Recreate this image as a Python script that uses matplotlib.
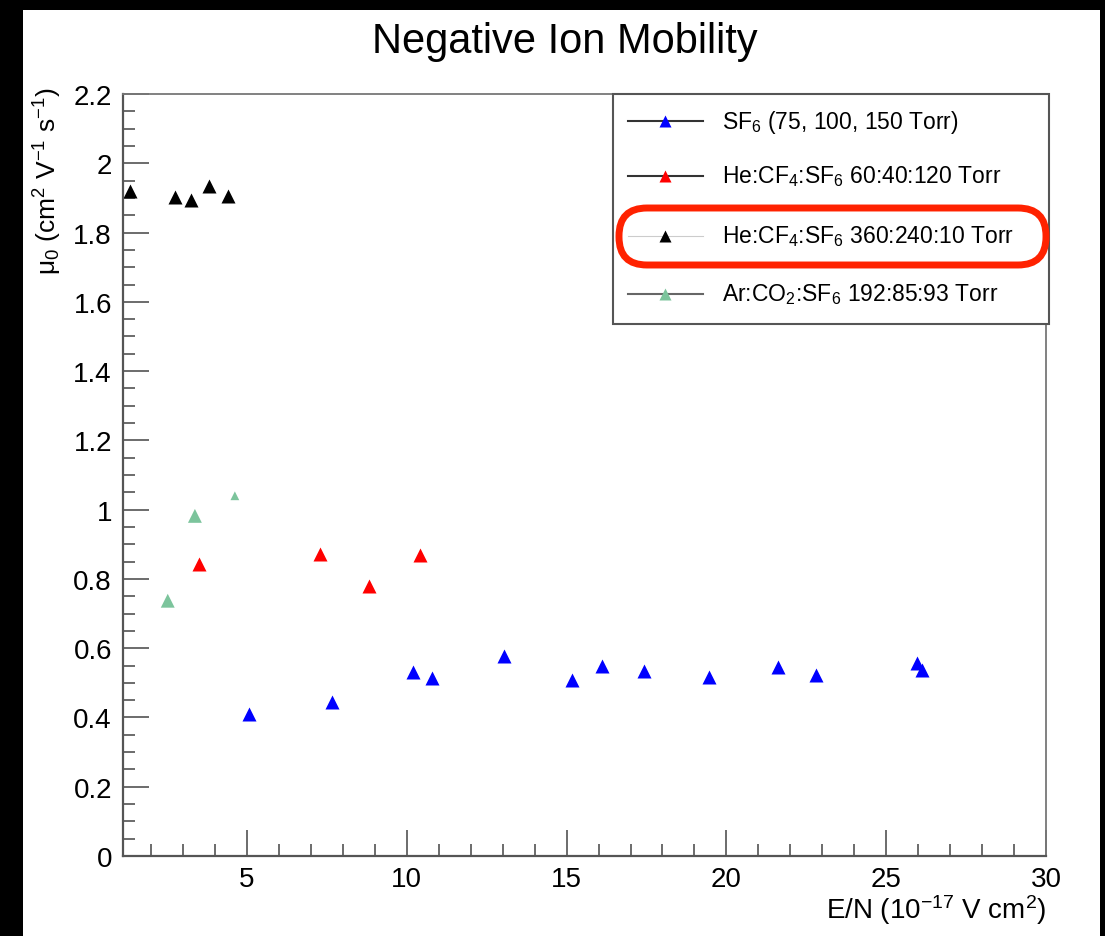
import matplotlib
matplotlib.use("Agg")
import matplotlib.pyplot as plt
from matplotlib.patches import Rectangle, FancyBboxPatch
from matplotlib.ticker import MultipleLocator

plt.rcParams["font.family"] = ["Liberation Sans", "DejaVu Sans"]
plt.rcParams["mathtext.fontset"] = "custom"
plt.rcParams["mathtext.rm"] = "Liberation Sans"
plt.rcParams["mathtext.it"] = "Liberation Sans"
plt.rcParams["mathtext.default"] = "regular"

# E/N (1e-17 V cm^2) and reduced mobility mu_0 (cm^2 V^-1 s^-1)
sf6_en = [5.07, 7.67, 10.18, 10.78, 13.05, 15.18, 16.10, 17.43, 19.46, 21.63, 22.81, 25.97, 26.12]
sf6_mu = [0.410, 0.444, 0.530, 0.513, 0.578, 0.509, 0.548, 0.535, 0.518, 0.546, 0.523, 0.556, 0.537]

he_cf4_sf6_a_en = [3.51, 7.28, 8.83, 10.41]
he_cf4_sf6_a_mu = [0.843, 0.872, 0.779, 0.869]

he_cf4_sf6_b_en = [1.34, 2.75, 3.25, 3.81, 4.41]
he_cf4_sf6_b_mu = [1.920, 1.902, 1.894, 1.935, 1.905]

ar_co2_sf6_en = [2.52, 3.37, 4.62]
ar_co2_sf6_mu = [0.737, 0.982, 1.040]

labels = [
    "SF$_6$ (75, 100, 150 Torr)",
    "He:CF$_4$:SF$_6$ 60:40:120 Torr",
    "He:CF$_4$:SF$_6$ 360:240:10 Torr",
    "Ar:CO$_2$:SF$_6$ 192:85:93 Torr",
]
colors = ["#0000ff", "#ff0000", "#000000", "#7cc49c"]

W, H = 1105, 937
fig = plt.figure(figsize=(W / 100, H / 100), dpi=100, facecolor="black")

# white canvas inside the black frame
fig.add_artist(Rectangle((23 / W, 0), (1100 - 23) / W, (H - 11) / H,
                         transform=fig.transFigure, facecolor="white",
                         edgecolor="none", zorder=-5))

ax = fig.add_axes([123 / W, (H - 857) / H, (1046 - 123) / W, (857 - 95) / H])
ax.set_xlim(1.12, 30)
ax.set_ylim(0, 2.2)

ms = 10
ax.plot(sf6_en, sf6_mu, "^", color=colors[0], ms=ms, mec="none")
ax.plot(he_cf4_sf6_a_en, he_cf4_sf6_a_mu, "^", color=colors[1], ms=ms, mec="none")
ax.plot(he_cf4_sf6_b_en, he_cf4_sf6_b_mu, "^", color=colors[2], ms=ms, mec="none")
ax.scatter(ar_co2_sf6_en, ar_co2_sf6_mu, marker="^", color=colors[3],
           s=[100, 100, 40], edgecolors="none")

ax.xaxis.set_major_locator(MultipleLocator(5))
ax.xaxis.set_minor_locator(MultipleLocator(1))
ax.yaxis.set_major_locator(MultipleLocator(0.2))
ax.yaxis.set_minor_locator(MultipleLocator(0.05))
ax.yaxis.set_major_formatter(plt.FuncFormatter(lambda v, p: f"{v:.1f}".rstrip("0").rstrip(".") if v else "0"))
ax.tick_params(which="both", direction="in", top=False, right=False,
               colors="#444444", labelcolor="black", labelsize=20, width=1.1)
ax.tick_params(which="major", length=19)
ax.tick_params(which="minor", length=8.5)
ax.tick_params(axis="y", pad=8)
ax.tick_params(axis="x", pad=7)

for side in ["left", "bottom"]:
    ax.spines[side].set_color("#555555")
    ax.spines[side].set_linewidth(1.6)
for side in ["top", "right"]:
    ax.spines[side].set_color("#777777")
    ax.spines[side].set_linewidth(1.3)

ax.set_ylabel(r"$\mu_0$ (cm$^2$ V$^{-1}$ s$^{-1}$)", fontsize=19, loc="top")
ax.yaxis.set_label_coords(-0.064, 1.01)
ax.set_xlabel(r"E/N (10$^{-17}$ V cm$^2$)", fontsize=20, loc="right")
ax.xaxis.set_label_coords(1.0, -0.047)

# overlay in pixel coordinates for title, legend box and highlight
ov = fig.add_axes([0, 0, 1, 1], zorder=5)
ov.set_xlim(0, W)
ov.set_ylim(H, 0)
ov.axis("off")
ov.patch.set_alpha(0)

ov.text(565, 42, "Negative Ion Mobility", fontsize=30, ha="center", va="center")

ov.add_patch(Rectangle((613, 95), 1049 - 613, 325 - 95, facecolor="white",
                       edgecolor="#555555", lw=1.5))
row_y = [122, 177, 237, 295]
line_cols = ["#333333", "#333333", "#cccccc", "#666666"]
line_w = [1.5, 1.5, 0.8, 1.5]
for y, lab, c, lc, lw in zip(row_y, labels, colors, line_cols, line_w):
    ov.plot([628, 703], [y, y], color=lc, lw=lw)
    ov.plot([665], [y], "^", color=c, ms=9, mec="none")
    ov.text(722, y, lab, fontsize=16.5, ha="left", va="center")

ov.add_patch(FancyBboxPatch((619, 209), 1046 - 619, 266 - 209,
                            boxstyle="round,pad=0,rounding_size=28",
                            facecolor="none", edgecolor="#ff2200", lw=5))

fig.savefig("out.png", dpi=100, facecolor=fig.get_facecolor())
